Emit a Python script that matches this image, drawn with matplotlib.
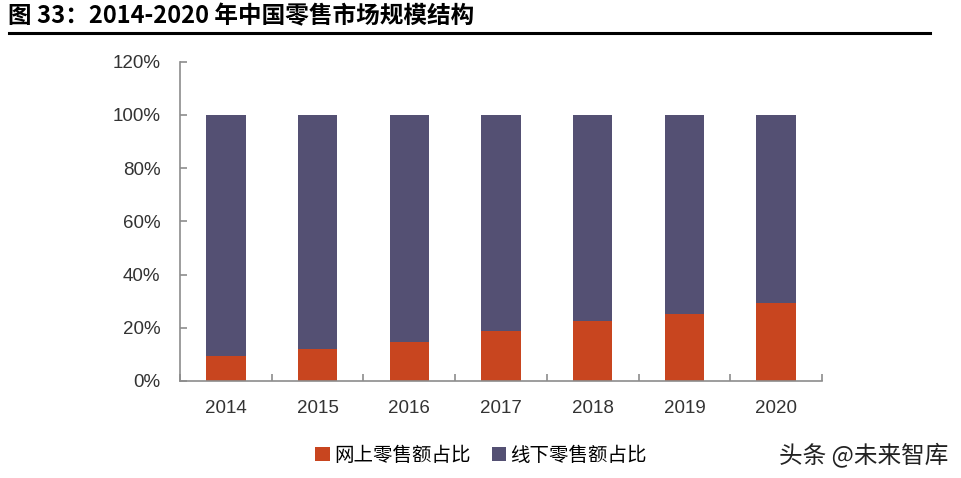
import matplotlib
matplotlib.use('Agg')
import matplotlib.pyplot as plt
import numpy as np

plt.rcParams['font.family'] = ['Liberation Sans', 'Noto Sans CJK SC', 'DejaVu Sans']

# 数据
years = ['2014', '2015', '2016', '2017', '2018', '2019', '2020']
online = [9.5, 11.9, 14.5, 18.8, 22.7, 25.2, 29.4]
offline = [100 - v for v in online]
yticks = [0, 20, 40, 60, 80, 100, 120]

red = '#C8451F'
purple = '#545073'
grey = '#8C8C8C'

fig = plt.figure(figsize=(9.61, 4.78), dpi=100)
ax = fig.add_axes([0.1873, 0.203, 0.668, 0.668])

x = np.arange(len(years))
ax.bar(x, online, width=0.43, color=red, label='网上零售额占比')
ax.bar(x, offline, width=0.43, bottom=online, color=purple, label='线下零售额占比')

ax.set_xlim(-0.48, len(years) - 0.5)
ax.set_ylim(0, 120)
ax.set_yticks(yticks)
ax.set_yticklabels([f'{v}%' for v in yticks])
ax.set_xticks(x)
ax.set_xticklabels(years)
ax.set_xticks(np.arange(-0.5, len(years)), minor=True)

for s in ['top', 'right']:
    ax.spines[s].set_visible(False)
for s in ['left', 'bottom']:
    ax.spines[s].set_color(grey)
    ax.spines[s].set_linewidth(1.2)

ax.tick_params(axis='y', direction='in', length=5, color=grey, width=1.2,
               labelsize=13.5, pad=14, labelcolor='#333333')
ax.tick_params(axis='x', which='major', length=0, labelsize=13.5, pad=14, labelcolor='#333333')
ax.tick_params(axis='x', which='minor', direction='in', length=5, color=grey, width=1.2)

# 标题与分隔线
fig.text(0.008, 0.966, '图 33：2014-2020 年中国零售市场规模结构', fontsize=17,
         fontweight='bold', family=['Noto Sans CJK SC'], va='center', ha='left')
fig.add_artist(plt.Line2D([0.009, 0.968], [0.931, 0.931], color='black', lw=2.2,
                          transform=fig.transFigure))

# 图例
fig.legend(loc='center left', bbox_to_anchor=(0.31, 0.048), ncol=2, frameon=False,
           handlelength=0.75, handleheight=0.75, handletextpad=0.2, columnspacing=1.1,
           prop={'family': 'Noto Sans CJK SC', 'size': 14})

# 水印
fig.text(0.987, 0.048, '头条 @未来智库', fontsize=17, family=['Noto Sans CJK SC'],
         color='#222222', ha='right', va='center')

fig.savefig('out.png', dpi=100)
